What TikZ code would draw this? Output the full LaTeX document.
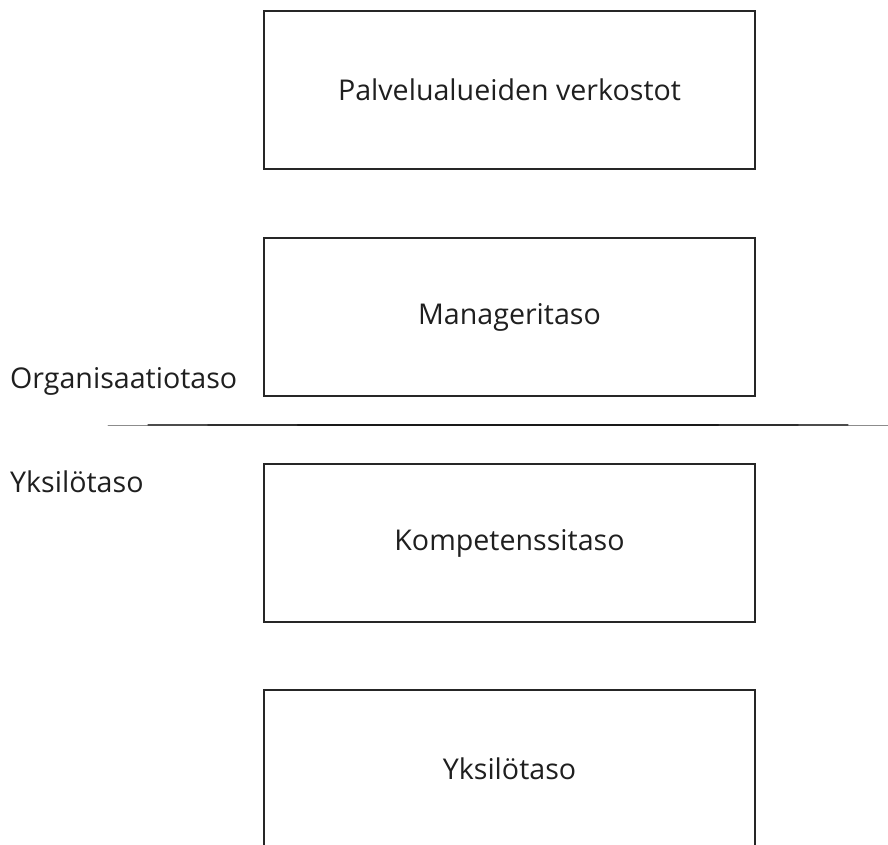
\documentclass[tikz,border=0pt]{standalone}
\usepackage{fontspec}
\setmainfont{Open Sans}
\begin{document}
\begin{tikzpicture}[x=1pt,y=-1pt,
  level/.style={draw=black!85,line width=2.4pt,minimum width=491pt,minimum height=158pt,
    inner sep=0pt,font=\fontsize{28.6}{32}\selectfont,text=black!88},
  side/.style={anchor=base west,inner sep=0pt,font=\fontsize{28.6}{32}\selectfont,text=black!88},
  divider/.style={line cap=round}]
\useasboundingbox (0,0) rectangle (888,845);
\node[level] (palv) at (509.5,90) {Palvelualueiden verkostot};
\node[level] (man)  at (509.5,317) {Manageritaso};
\node[level] (komp) at (509.5,543) {Kompetenssitaso};
\node[level] (yks)  at (509.5,769) {Yksilötaso};
\node[side] (org) at (10,388) {Organisaatiotaso};
\node[side] (ind) at (10,492) {Yksilötaso};
% tapered divider between the organisation and individual levels,
% built from overlapping strokes that thicken towards the middle
\coordinate (divL) at (108,425);
\coordinate (divR) at (888,425);
\draw[divider,line width=0.6pt,black!45] (divL) -- (divR);
\draw[divider,line width=1.2pt,black!70,shorten <=40pt,shorten >=40pt] (divL) -- (divR);
\draw[divider,line width=1.8pt,black!82,shorten <=100pt,shorten >=90pt] (divL) -- (divR);
\draw[divider,line width=2.5pt,black!90,shorten <=190pt,shorten >=170pt] (divL) -- (divR);
\end{tikzpicture}
\end{document}
